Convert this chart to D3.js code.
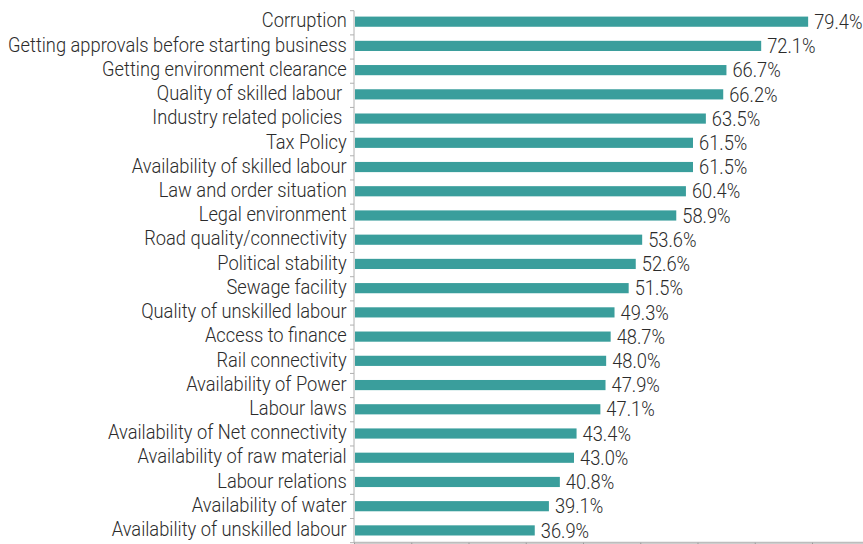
<!DOCTYPE html>
<html>
<head>
<meta charset="utf-8">
<script src="https://cdn.jsdelivr.net/npm/d3@7"></script>
<style>
  body { margin: 0; background: #fff; }
  text { font-family: Roboto, "Liberation Sans", sans-serif; font-weight: 300; fill: #2b2b2b; font-size: 20px; }
</style>
</head>
<body>
<svg id="chart" width="863" height="544"></svg>
<script>
var categories = [
  "Corruption",
  "Getting approvals before starting business",
  "Getting environment clearance",
  "Quality of skilled labour ",
  "Industry related policies ",
  "Tax Policy",
  "Availability of skilled labour",
  "Law and order situation",
  "Legal environment",
  "Road quality/connectivity",
  "Political stability",
  "Sewage facility",
  "Quality of unskilled labour",
  "Access to finance",
  "Rail connectivity",
  "Availability of Power",
  "Labour laws",
  "Availability of Net connectivity",
  "Availability of raw material",
  "Labour relations",
  "Availability of water",
  "Availability of unskilled labour"
];
var values = [79.4, 72.1, 66.7, 66.2, 63.5, 61.5, 61.5, 60.4, 58.9, 53.6, 52.6,
              51.5, 49.3, 48.7, 48.0, 47.9, 47.1, 43.4, 43.0, 40.8, 39.1, 36.9];
var tickCount = 8;

var margin = {top: 10.7, right: 0, bottom: 1.3, left: 354},
    width = 863 - margin.left - margin.right,
    height = 544 - margin.top - margin.bottom;

// the reference face is narrower than Roboto, squeeze it a bit
var squeeze = 0.915;

var svg = d3.select("#chart");
var g = svg.append("g").attr("transform", "translate(" + margin.left + "," + margin.top + ")");

// the value axis starts above zero, last tick lands at 80
var x = d3.scaleLinear().domain([8.8, 80]).range([0, 458]);
var y = d3.scaleBand().domain(categories).range([0, height]).paddingInner(0.58).paddingOuter(0.27).align(0.45);

var data = categories.map(function(c, i) { return {name: c, value: values[i]}; });

var place = function(px, py) {
  return "translate(" + px + "," + py + ") scale(" + squeeze + ",1)";
};

g.selectAll("rect.bar")
  .data(data)
  .enter().append("rect")
  .attr("class", "bar")
  .attr("x", 1)
  .attr("y", function(d) { return y(d.name); })
  .attr("width", function(d) { return x(d.value) - 1; })
  .attr("height", y.bandwidth())
  .style("fill", "#3a9e9c");

g.selectAll("text.val")
  .data(data)
  .enter().append("text")
  .attr("class", "val")
  .attr("transform", function(d) { return place(x(d.value) + 6, y(d.name) + y.bandwidth() / 2); })
  .attr("dy", "0.36em")
  .text(function(d) { return d.value.toFixed(1) + "%"; });

g.selectAll("text.cat")
  .data(data)
  .enter().append("text")
  .attr("class", "cat")
  .attr("transform", function(d) { return place(-7.3, y(d.name) + y.bandwidth() / 2 - 1.5); })
  .attr("dy", "0.36em")
  .attr("text-anchor", "end")
  .style("white-space", "pre")
  .text(function(d) { return d.name; });

// category axis: line plus ticks on band edges
var step = height / categories.length;
g.append("line")
  .attr("x1", 0).attr("x2", 0).attr("y1", 0).attr("y2", height)
  .style("stroke", "#b0b0b0");
g.selectAll("line.ytick")
  .data(d3.range(categories.length + 1))
  .enter().append("line")
  .attr("class", "ytick")
  .attr("x1", -4).attr("x2", 0)
  .attr("y1", function(i) { return i * step; })
  .attr("y2", function(i) { return i * step; })
  .style("stroke", "#b0b0b0");

// value axis, no labels
var xTicks = d3.range(tickCount + 1).map(function(i) {
  return x.domain()[0] + i * (x.domain()[1] - x.domain()[0]) / tickCount;
});
var xAxis = d3.axisBottom(x).tickValues(xTicks).tickFormat("").tickSize(5).tickSizeOuter(0);
var xg = g.append("g").attr("transform", "translate(0," + height + ")").call(xAxis);
xg.select(".domain").attr("d", "M0,0H" + width).style("stroke", "#bdbdbd").style("stroke-width", 2);
xg.selectAll(".tick line").style("stroke", "#999");
</script>
</body>
</html>
